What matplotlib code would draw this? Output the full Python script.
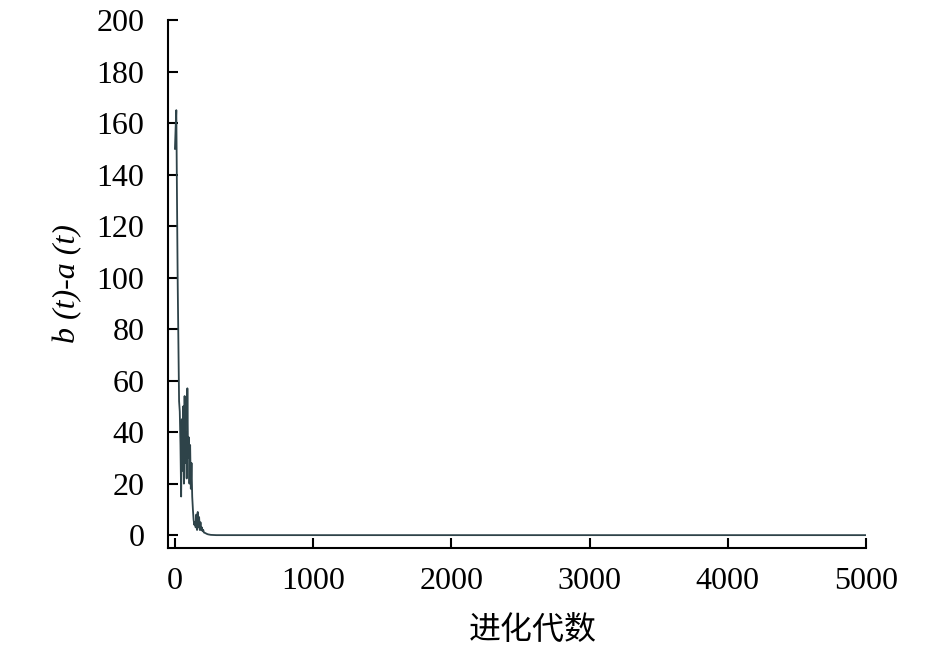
import matplotlib
matplotlib.use("Agg")
from matplotlib import pyplot as plt

# evolution generation and b(t)-a(t)
gens = [0, 5, 10, 15, 20, 25, 30, 35, 40, 45, 50, 55, 60, 65, 70, 75, 80, 85,
        90, 95, 100, 105, 110, 115, 120, 125, 130, 135, 140, 145, 150, 155,
        160, 165, 170, 175, 180, 185, 190, 195, 200, 205, 210, 220, 230, 240,
        250, 260, 280, 300, 350, 400, 1000, 2000, 3000, 4000, 5000]
diff = [150, 158, 165, 130, 98, 75, 52, 48, 35, 15, 45, 25, 50, 20, 54, 28, 40, 22,
        57, 30, 38, 20, 35, 18, 28, 15, 10, 6, 4, 5, 3, 8, 2, 9, 3, 7, 2, 5, 2, 3,
        1.5, 2, 1, 0.8, 0.5, 0.3, 0.2, 0.1, 0.05, 0, 0, 0, 0, 0, 0, 0, 0]

xticks = [0, 1000, 2000, 3000, 4000, 5000]
yticks = [0, 20, 40, 60, 80, 100, 120, 140, 160, 180, 200]

plt.rcParams['font.family'] = ['Liberation Serif', 'Noto Sans CJK SC']

fig = plt.figure(figsize=(9.45, 6.5), dpi=100)
ax = fig.add_axes([0.1778, 0.1569, 0.7386, 0.8123])
ax.plot(gens, diff, color='#2e4349', lw=1.3)

ax.set_xlim(-50, 5000)
ax.set_ylim(-5, 200)
ax.set_xticks(xticks)
ax.set_yticks(yticks)
ax.spines['top'].set_visible(False)
ax.spines['right'].set_visible(False)
for s in ['left', 'bottom']:
    ax.spines[s].set_linewidth(1.5)
ax.tick_params(direction='in', length=7, width=1.5, labelsize=23)
ax.tick_params(axis='y', pad=17)
ax.tick_params(axis='x', pad=14)

ax.set_ylabel('b (t)-a (t)', fontsize=23, style='italic', labelpad=10)
ax.set_xlabel('进化代数', fontsize=23, family=['Noto Sans CJK SC'])
ax.xaxis.set_label_coords(0.522, -0.125)

fig.savefig('out.png', dpi=100)
